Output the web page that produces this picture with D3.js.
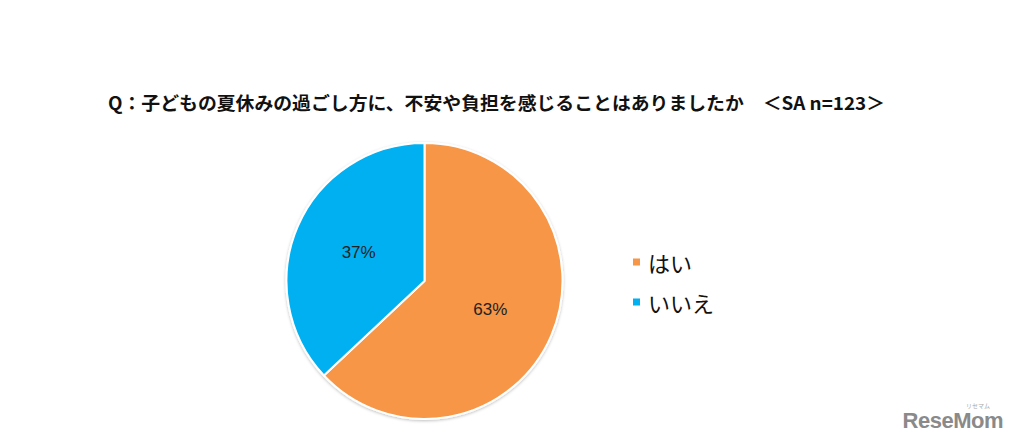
<!DOCTYPE html>
<html><head><meta charset="utf-8">
<script src="https://cdn.jsdelivr.net/npm/d3@7"></script>
<style>html,body{margin:0;padding:0;background:#fff;}svg{display:block;}</style>
</head><body>
<script>
const categories = ["はい", "いいえ"];
const values = [63, 37];
const labels = ["63%", "37%"];
const colors = ["#F79646", "#00B0F0"];
const title = "Q：子どもの夏休みの過ごし方に、不安や負担を感じることはありましたか　＜SA n=123＞";

const W = 1010, H = 440;
const svg = d3.select("body").append("svg").attr("width", W).attr("height", H);

const defs = svg.append("defs");
const f = defs.append("filter").attr("id","sh").attr("x","-10%").attr("y","-10%").attr("width","120%").attr("height","120%");
f.append("feDropShadow").attr("dx",0).attr("dy",1).attr("stdDeviation",1.5).attr("flood-color","#000").attr("flood-opacity",0.25);

svg.append("text")
  .attr("x", 108).attr("y", 110)
  .attr("font-family", "'Noto Sans CJK JP', sans-serif")
  .attr("font-size", 18).attr("font-weight", "bold").attr("fill", "#111")
  .attr("textLength", 777).attr("lengthAdjust", "spacingAndGlyphs")
  .text(title);

const cx = 424.5, cy = 281, r = 138;
const pie = d3.pie().sort(null).value(d => d)(values);
const arc = d3.arc().innerRadius(0).outerRadius(r);
const g = svg.append("g").attr("transform", `translate(${cx},${cy})`);
g.append("g").attr("filter","url(#sh)").selectAll("path").data(pie).join("path")
  .attr("d", arc).attr("fill", (d,i) => colors[i])
  .attr("stroke", "#fff").attr("stroke-width", 2).attr("stroke-linejoin","round");

const labelArc = d3.arc().innerRadius(r*0.52).outerRadius(r*0.52);
g.selectAll("text.lbl").data(pie).join("text").attr("class","lbl")
  .attr("transform", d => { const c = labelArc.centroid(d); return `translate(${c[0]},${c[1]})`; })
  .attr("text-anchor","middle").attr("dominant-baseline","central")
  .attr("font-family","'Liberation Sans', Arial, sans-serif").attr("font-size",17)
  .attr("fill","#222").text((d,i) => labels[i]);

const legend = svg.append("g").attr("transform","translate(633,262)");
const rows = legend.selectAll("g").data(categories).join("g")
  .attr("transform", (d,i) => `translate(0,${i*40})`);
rows.append("rect").attr("x",0).attr("y",-3.5).attr("width",7).attr("height",7)
  .attr("fill", (d,i) => colors[i]);
rows.append("text").attr("x",15).attr("y",0).attr("dominant-baseline","central")
  .attr("font-family","'Noto Sans CJK JP', sans-serif").attr("font-size",22)
  .attr("fill","#111").text(d => d);

svg.append("text").attr("x", 1003).attr("y", 428).attr("text-anchor","end")
  .attr("font-family","'Liberation Sans', Arial, sans-serif").attr("font-weight","bold")
  .attr("font-size", 22).attr("fill","#8a8a8a").attr("letter-spacing", -0.5).text("ReseMom");
svg.append("text").attr("x", 990).attr("y", 408).attr("text-anchor","end")
  .attr("font-family","'Noto Sans CJK JP', sans-serif")
  .attr("font-size", 6).attr("fill","#aaa").text("リセマム");
</script>
</body></html>
